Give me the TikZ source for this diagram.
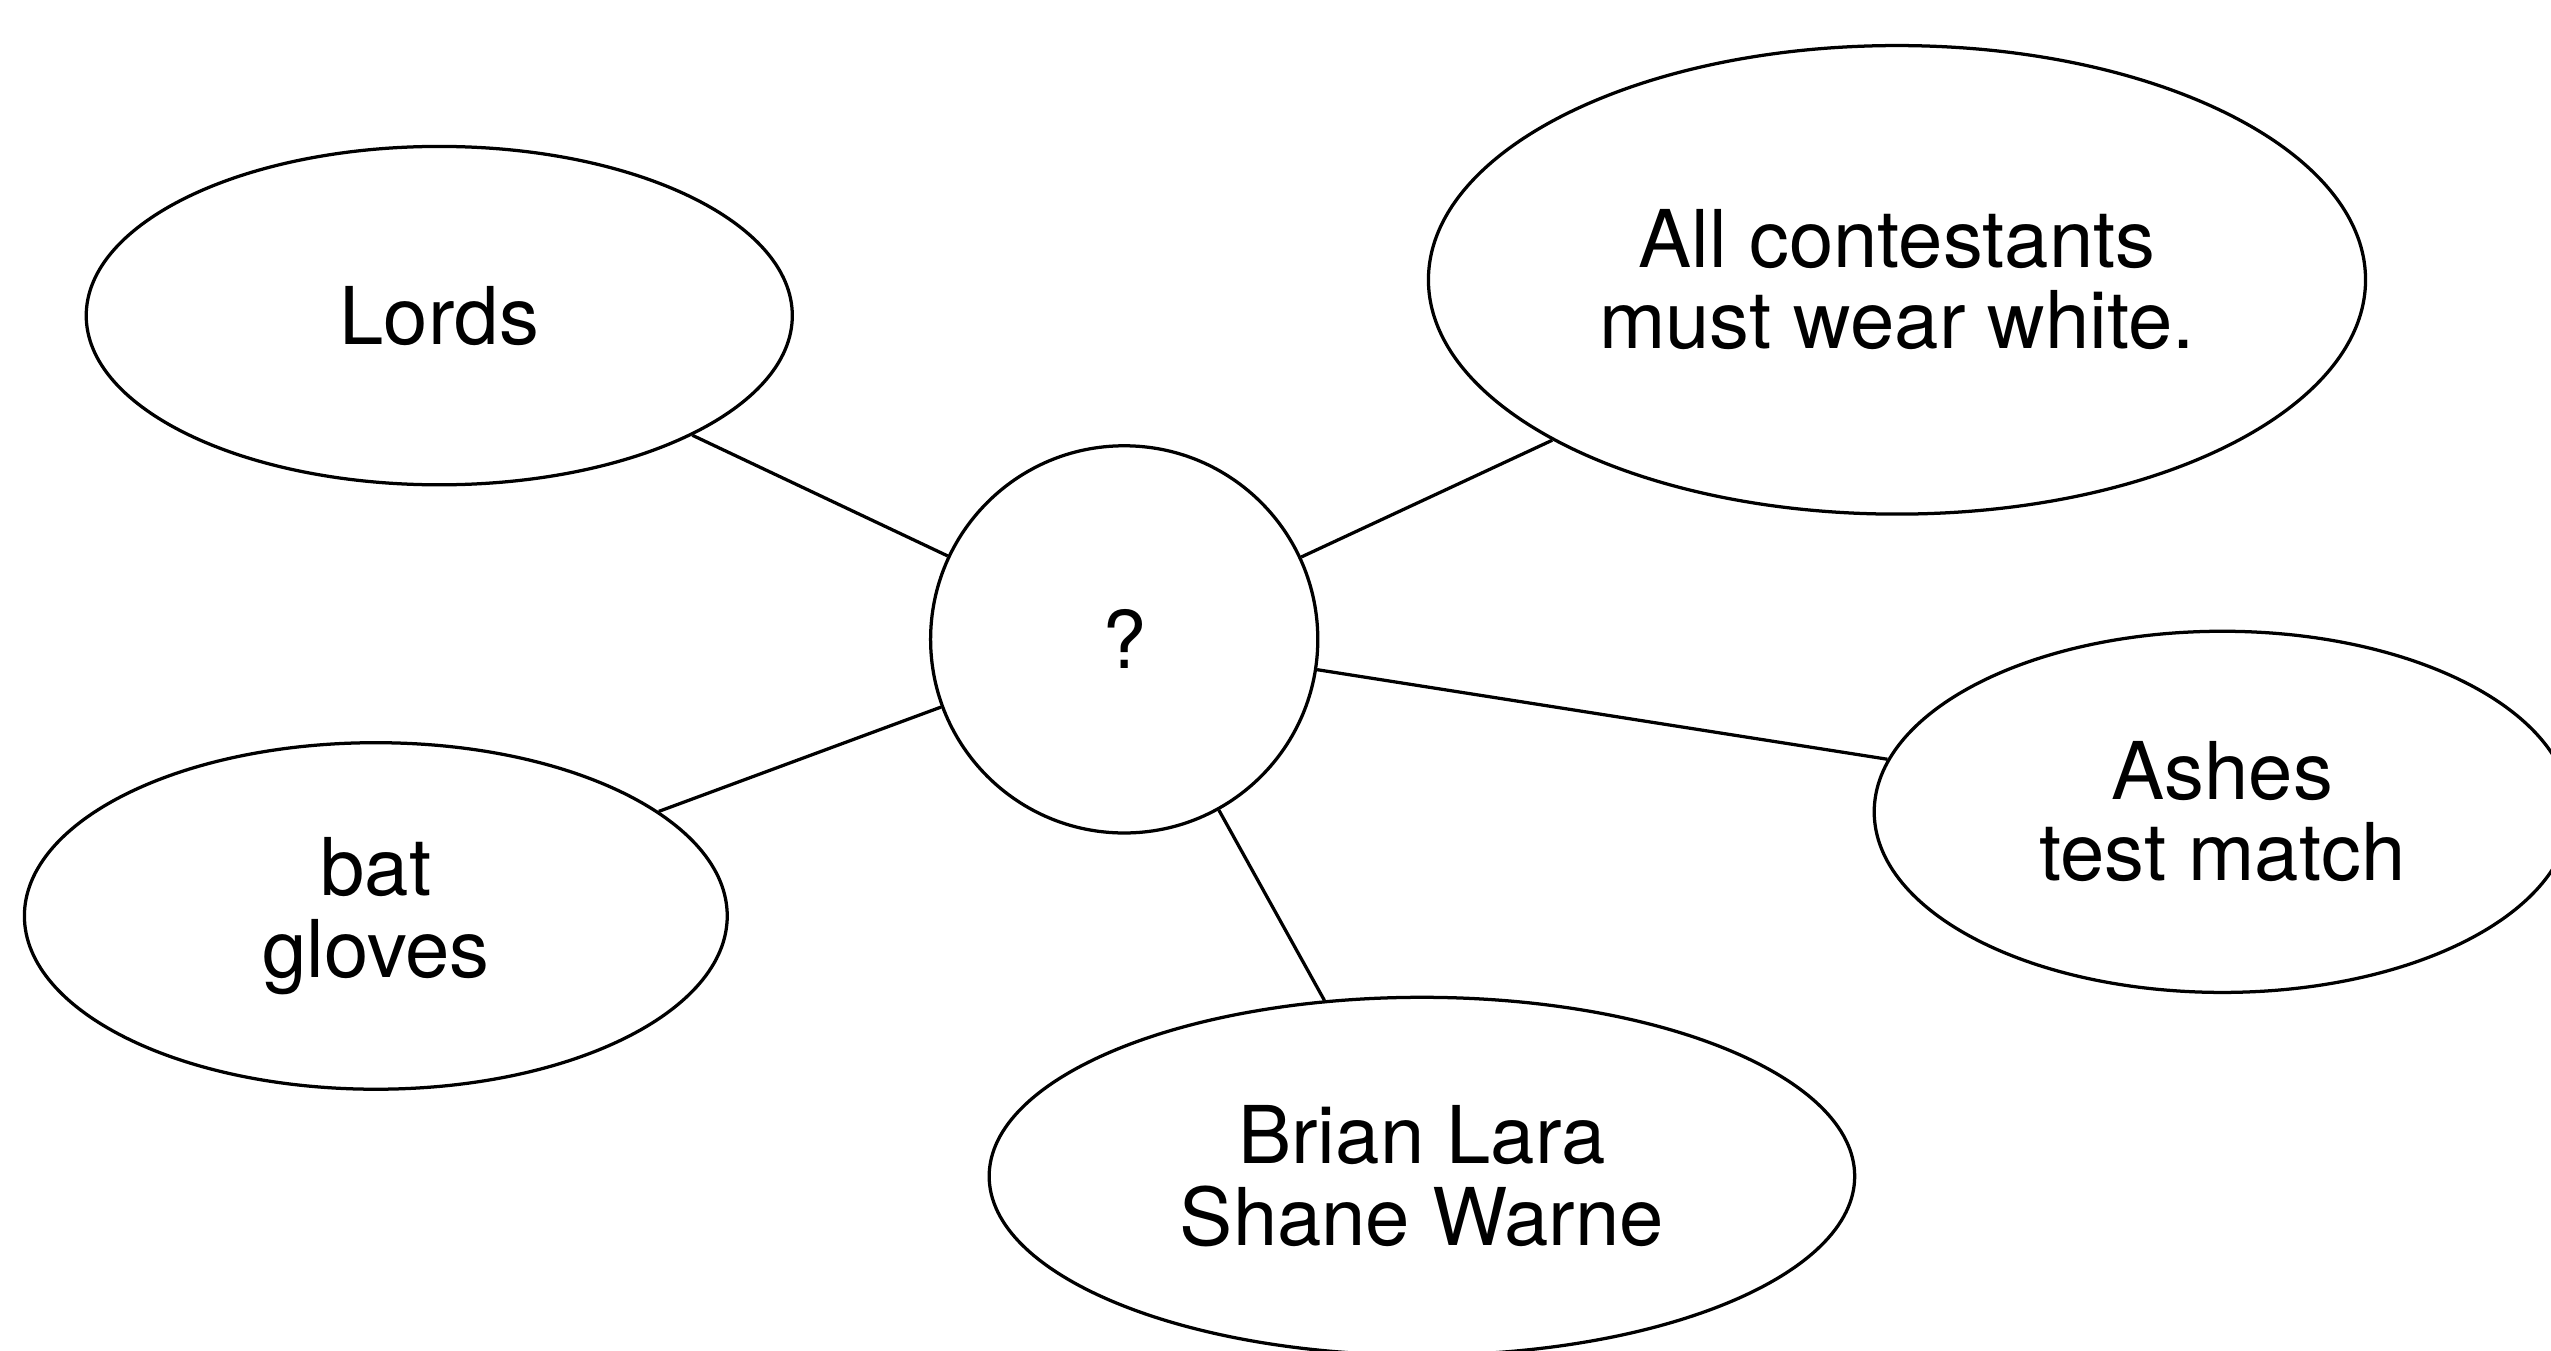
\documentclass[tikz,border=0pt]{standalone}
\usepackage{fontspec}
\setmainfont{TeX Gyre Heros}
\usetikzlibrary{shapes.geometric}
\begin{document}
\begin{tikzpicture}[x=0.5pt,y=-0.5pt,
  bubble/.style={draw,ellipse,line width=1pt,inner sep=0pt,align=center,
    font=\fontsize{24.5}{25}\selectfont},
  hub/.style={draw,circle,line width=1pt,inner sep=0pt,minimum size=119pt,
    font=\fontsize{24.5}{25}\selectfont},
  spoke/.style={line width=1pt}]
\useasboundingbox (0,0) rectangle (1568,830);
\clip (0,0) rectangle (1568,830);
\fill[white] (0,0) rectangle (1568,830);
\node[hub] (q) at (691,393) {?};
\node[bubble,minimum width=217pt,minimum height=104pt] (lords) at (270,194) {Lords};
\node[bubble,minimum width=288pt,minimum height=144pt] (white) at (1166,172) {All contestants\\must wear white.};
\node[bubble,minimum width=214pt,minimum height=111pt] (ashes) at (1366,499) {Ashes\\test match};
\node[bubble,minimum width=216pt,minimum height=106.5pt] (bat) at (231,563) {bat\\gloves};
\node[bubble,minimum width=266pt,minimum height=110pt] (lara) at (874,723) {Brian Lara\\Shane Warne};
\draw[spoke] (q) -- (lords);
\draw[spoke] (q) -- (white);
\draw[spoke] (q) -- (ashes);
\draw[spoke] (q) -- (bat);
\draw[spoke] (q) -- (lara);
\end{tikzpicture}
\end{document}
